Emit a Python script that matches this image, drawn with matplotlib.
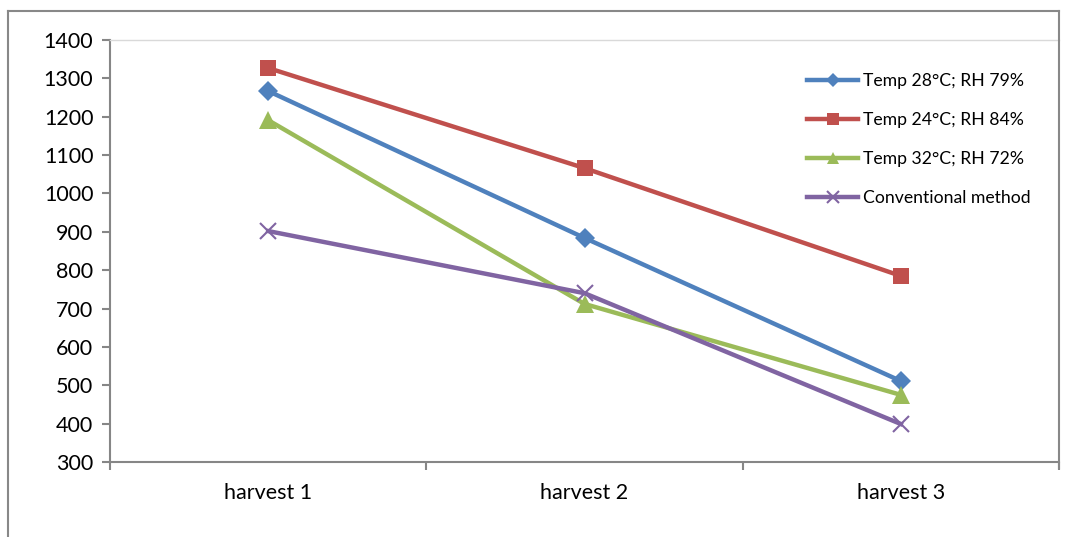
import matplotlib
matplotlib.use("Agg")
import matplotlib.pyplot as plt
from matplotlib.lines import Line2D

categories = ["harvest 1", "harvest 2", "harvest 3"]
series_names = ["Temp 28°C; RH 79%", "Temp 24°C; RH 84%", "Temp 32°C; RH 72%", "Conventional method"]
temp28 = [1267, 884, 511]
temp24 = [1327, 1066, 785]
temp32 = [1191, 712, 475]
conventional = [902, 740, 399]
y_ticks = [300, 400, 500, 600, 700, 800, 900, 1000, 1100, 1200, 1300, 1400]

plt.rcParams['font.family'] = ['Lato', 'DejaVu Sans']

fig = plt.figure(figsize=(10.66, 5.37), dpi=100)
ax = fig.add_axes([110/1066, 1-462/537, (1059-110)/1066, (462-40)/537])

styles = [
    ("#4F81BD", "D", 10.5),
    ("#C0504D", "s", 11.5),
    ("#9BBB59", "^", 12.5),
    ("#8064A2", "x", 11.5),
]
x = list(range(len(categories)))
for vals, name, (c, m, ms) in zip([temp28, temp24, temp32, conventional], series_names, styles):
    kw = dict(markeredgewidth=1.5) if m == "x" else dict(markeredgewidth=0)
    ax.plot(x, vals, color=c, lw=3.2, marker=m, markersize=ms, label=name,
            markerfacecolor=c, markeredgecolor=c, **kw)

ax.set_xlim(-0.5, 2.5)
ax.set_ylim(300, 1400)
ax.set_yticks(y_ticks)
ax.set_xticks(x)
ax.set_xticklabels(categories)
ax.set_xticks([-0.5, 0.5, 1.5, 2.5], minor=True)
ax.tick_params(axis='x', which='major', length=0, labelsize=15.5, pad=15, colors='black')
ax.tick_params(axis='x', which='minor', length=6, width=1.5, color='#868686', direction='out')
ax.tick_params(axis='y', length=6, width=1.5, color='#868686', labelsize=15.5, pad=6, direction='out')
for lbl in ax.get_xticklabels() + ax.get_yticklabels():
    lbl.set_color('black')

for s in ['left', 'bottom']:
    ax.spines[s].set_color('#868686')
    ax.spines[s].set_linewidth(1.5)
ax.spines['right'].set_visible(False)
ax.spines['top'].set_color('#D9D9D9')
ax.spines['top'].set_linewidth(1.0)

leg = ax.legend(loc='upper left', bbox_to_anchor=((807-110)/949, (462-73)/422), frameon=False,
                fontsize=12.7, handlelength=2.9, handletextpad=0.25, labelspacing=1.3,
                markerscale=0.7, borderpad=0, borderaxespad=0)

# outer border
bc = '#888888'
fig.add_artist(Line2D([8/1066, 8/1066], [0, 1-11/537], transform=fig.transFigure, color=bc, lw=1.5))
fig.add_artist(Line2D([8/1066, 1059/1066], [1-11/537, 1-11/537], transform=fig.transFigure, color=bc, lw=1.5))
fig.add_artist(Line2D([1059/1066, 1059/1066], [1-11/537, 1-468/537], transform=fig.transFigure, color=bc, lw=1.5))

fig.savefig("out.png", dpi=100)
